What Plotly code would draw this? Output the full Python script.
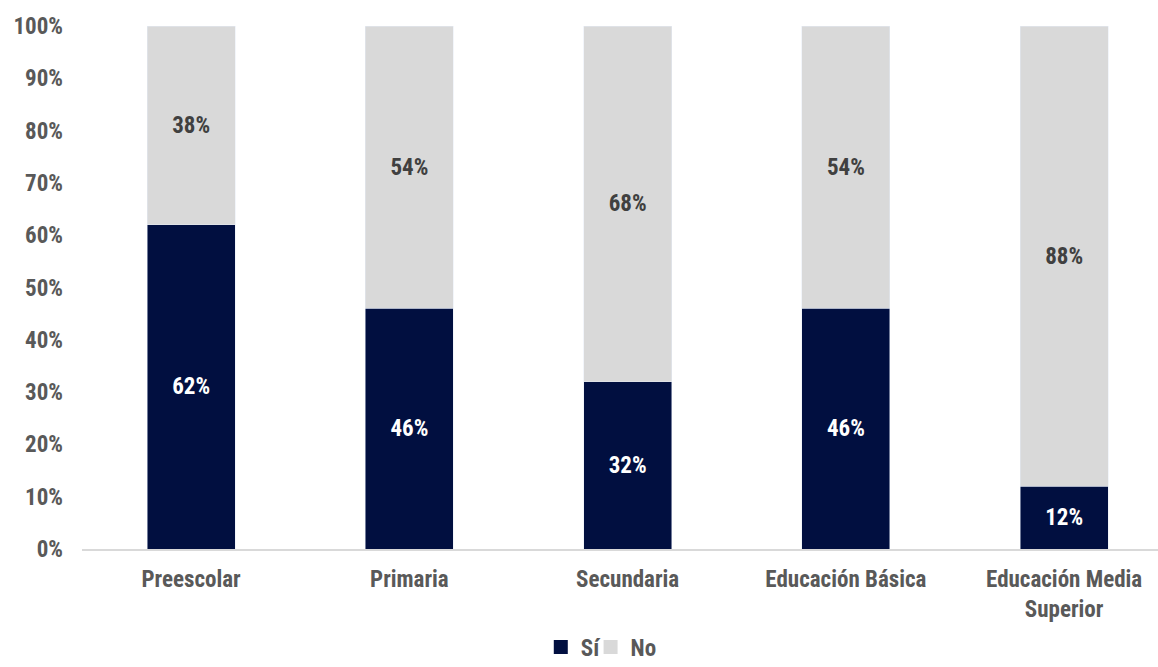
import plotly.graph_objects as go

categories = ["Preescolar", "Primaria", "Secundaria", "Educación Básica", "Educación Media<br>Superior"]
si_values = [62, 46, 32, 46, 12]
no_values = [38, 54, 68, 54, 88]
y_ticks = [0, 10, 20, 30, 40, 50, 60, 70, 80, 90, 100]

FONT = "Liberation Sans Narrow, Arial Narrow, Roboto Condensed, sans-serif"
NAVY = "#010F40"
GRAY = "#D9D9D9"
TXT = "#595959"

x_pos = list(range(len(categories)))

fig = go.Figure()
fig.add_trace(go.Bar(
    name="Sí", x=x_pos, y=si_values, marker_color=NAVY, width=0.403, showlegend=False,
    text=[f"<b>{v}%</b>" for v in si_values], textposition="inside", insidetextanchor="middle",
    textfont=dict(color="white", size=23, family=FONT), textangle=0,
))
fig.add_trace(go.Bar(
    name="No", x=x_pos, y=no_values, marker_color=GRAY, width=0.403, showlegend=False,
    text=[f"<b>{v}%</b>" for v in no_values], textposition="inside", insidetextanchor="middle",
    textfont=dict(color="#404040", size=23, family=FONT), textangle=0,
))

# legend entries with square swatches, one legend box per series
for name, color, leg in [("Sí", NAVY, "legend"), ("No", GRAY, "legend2")]:
    fig.add_trace(go.Scatter(
        name=f"<b>{name}</b>", x=[None], y=[None], mode="markers", legend=leg,
        marker=dict(symbol="square", size=14, color=color),
    ))

legend_style = dict(
    orientation="h", xref="container", yref="container",
    xanchor="left", y=0.03, yanchor="middle", bgcolor="rgba(0,0,0,0)",
    font=dict(size=23, color=TXT, family=FONT), itemwidth=30,
)

fig.update_layout(
    barmode="stack",
    width=1158, height=667,
    margin=dict(l=82, r=0, t=26, b=118, autoexpand=False),
    plot_bgcolor="white", paper_bgcolor="white",
    font=dict(family=FONT, size=23, color=TXT),
    uniformtext=dict(mode="show", minsize=10),
    xaxis=dict(
        tickmode="array", tickvals=x_pos, ticktext=[f"<b>{c}</b>" for c in categories],
        range=[-0.5, 4.43], showline=True, linecolor="#D9D9D9", linewidth=2,
        ticks="", showgrid=False, zeroline=False, ticklabelstandoff=8,
        tickfont=dict(size=23, color=TXT, family=FONT), automargin=False,
    ),
    yaxis=dict(
        range=[0, 100], tickmode="array", tickvals=y_ticks,
        ticktext=[f"<b>{t}%</b>" for t in y_ticks],
        showgrid=False, zeroline=False, showline=False, ticks="",
        ticklabelstandoff=18,
        tickfont=dict(size=23, color=TXT, family=FONT),
        automargin=False,
    ),
    legend=dict(x=0.467, **legend_style),
    legend2=dict(x=0.510, **legend_style),
)

fig.write_html("out.html")
